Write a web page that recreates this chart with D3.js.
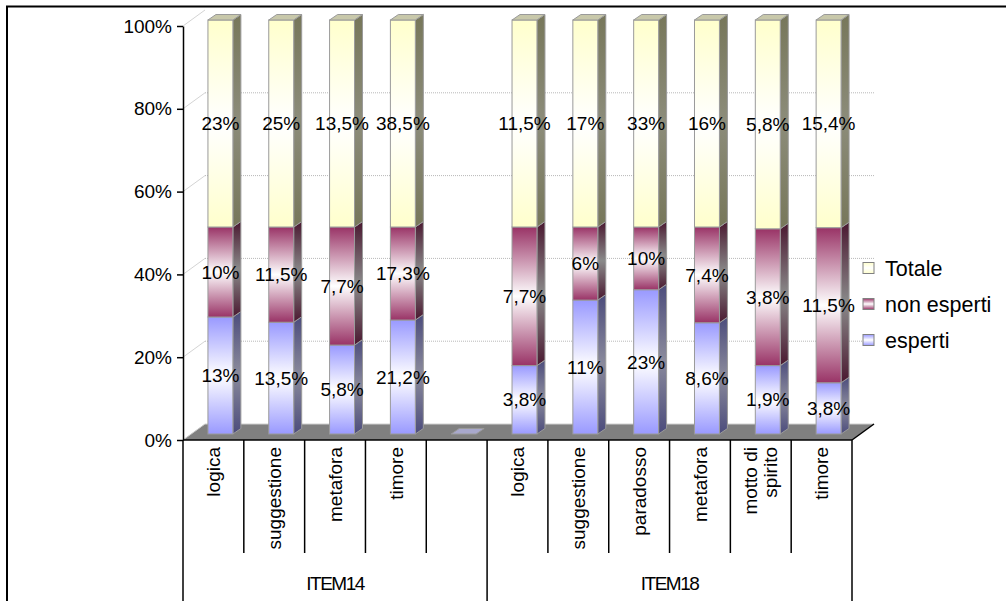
<!DOCTYPE html>
<html>
<head>
<meta charset="utf-8">
<script src="https://cdn.jsdelivr.net/npm/d3@7"></script>
<style>
  body { margin: 0; background: #fff; }
  svg { font-family: "Liberation Sans", Arial, Helvetica, sans-serif; }
</style>
</head>
<body>
<svg id="chart" width="1006" height="601"></svg>
<script>
//Data
var categories = [["logica"], ["suggestione"], ["metafora"], ["timore"], [""],
  ["logica"], ["suggestione"], ["paradosso"], ["metafora"], ["motto di", "spirito"], ["timore"]];
var groups = [{name: "ITEM14", from: 0, to: 5}, {name: "ITEM18", from: 5, to: 11}];
var esperti    = [13, 13.5, 5.8, 21.2, 0, 3.8, 11, 23, 8.6, 1.9, 3.8];
var nonEsperti = [10, 11.5, 7.7, 17.3, 0, 7.7, 6, 10, 7.4, 3.8, 11.5];
var totale     = [23, 25, 13.5, 38.5, 0, 11.5, 17, 33, 16, 5.8, 15.4];
var yTicks = [0, 0.2, 0.4, 0.6, 0.8, 1];
var seriesNames = ["esperti", "non esperti", "Totale"];

//Colors per series: face, side edge, side middle, top
var colors = {
  "esperti":     {face: "#9999ff", side: "#4c4c7c", mid: "#8a8a9c", top: "#b4b4dc"},
  "non esperti": {face: "#993366", side: "#4a1830", mid: "#8a8a8a", top: "#b08098"},
  "Totale":      {face: "#ffffcc", side: "#77775a", mid: "#8c8c7a", top: "#c8c8aa"}
};

var rows = categories.map((c, i) => ({
  "esperti": esperti[i], "non esperti": nonEsperti[i], "Totale": totale[i]
}));

var svg = d3.select("#chart");
var defs = svg.append("defs");

//Gradients
seriesNames.forEach(function(s, k) {
  var g = defs.append("linearGradient").attr("id", "face" + k)
    .attr("x1", 0).attr("y1", 0).attr("x2", 0).attr("y2", 1);
  g.append("stop").attr("offset", "0%").attr("stop-color", colors[s].face);
  g.append("stop").attr("offset", "50%").attr("stop-color", "#ffffff");
  g.append("stop").attr("offset", "100%").attr("stop-color", colors[s].face);

  var sg = defs.append("linearGradient").attr("id", "side" + k)
    .attr("x1", 0).attr("y1", 0).attr("x2", 0).attr("y2", 1);
  sg.append("stop").attr("offset", "0%").attr("stop-color", colors[s].side);
  sg.append("stop").attr("offset", "50%").attr("stop-color", colors[s].mid);
  sg.append("stop").attr("offset", "100%").attr("stop-color", colors[s].side);
});

//Scales
var x = d3.scaleBand().domain(d3.range(categories.length)).range([183, 852]);
var y = d3.scaleLinear().domain([0, 1]).range([440, 26]);

var wall = {dx: 22, dy: -16};     //back wall offset
var front = {dx: 7, dy: -6};      //bar front plane
var bd = {dx: 8, dy: -5.5};       //bar depth
var barW = x.bandwidth() * 0.41;

//Chart border (top and left only visible)
svg.append("path")
  .attr("d", "M7,601 L7,6.5 L1006,6.5")
  .attr("fill", "none").attr("stroke", "#000").attr("stroke-width", 2);

//Back wall gridlines
svg.append("g").selectAll("line")
  .data(yTicks.filter(t => t > 0 && t < 1))
  .enter().append("line")
  .attr("x1", 183 + wall.dx).attr("x2", 852 + wall.dx)
  .attr("y1", d => y(d) + wall.dy).attr("y2", d => y(d) + wall.dy)
  .attr("stroke", "#b8b8b8").attr("stroke-dasharray", "1,1");

//Side wall diagonals
svg.append("g").selectAll("line")
  .data(yTicks.filter(t => t > 0))
  .enter().append("line")
  .attr("x1", 183).attr("x2", 183 + wall.dx)
  .attr("y1", d => y(d)).attr("y2", d => y(d) + wall.dy)
  .attr("stroke", "#d4d4d4");

//Floor
var fl = [[183, y(0)], [852, y(0)], [852 + wall.dx, y(0) + wall.dy], [183 + wall.dx, y(0) + wall.dy]];
svg.append("polygon")
  .attr("points", fl.map(p => p.join(",")).join(" "))
  .attr("fill", "#808080");
svg.append("line")
  .attr("x1", fl[3][0]).attr("y1", fl[3][1]).attr("x2", fl[2][0]).attr("y2", fl[2][1])
  .attr("stroke", "#d0d0d0");
svg.append("line")
  .attr("x1", fl[0][0]).attr("y1", fl[0][1]).attr("x2", fl[3][0]).attr("y2", fl[3][1])
  .attr("stroke", "#c8c8c8");
svg.append("line")
  .attr("x1", fl[1][0]).attr("y1", fl[1][1]).attr("x2", fl[2][0]).attr("y2", fl[2][1])
  .attr("stroke", "#000").attr("stroke-width", 1.5);
svg.append("line")
  .attr("x1", 183).attr("y1", y(0)).attr("x2", 852).attr("y2", y(0))
  .attr("stroke", "#000").attr("stroke-width", 1.5);

//Stack
var stacked = d3.stack().keys(seriesNames).offset(d3.stackOffsetExpand)(rows);

var bars = svg.append("g");
var labels = svg.append("g")
  .attr("font-size", 19).attr("text-anchor", "middle").attr("fill", "#000");

function fmt(v) { return String(v).replace(".", ",") + "%"; }

categories.forEach(function(c, i) {
  var x0 = x(i) + (x.bandwidth() - barW) / 2 + front.dx;
  var topY = null, topK = -1;
  stacked.forEach(function(layer, k) {
    var d = layer[i];
    var yb = y(d[0]) + front.dy, yt = y(d[1]) + front.dy;
    if (yb - yt <= 0.01) return;
    //side
    bars.append("polygon")
      .attr("points", [[x0 + barW, yt], [x0 + barW + bd.dx, yt + bd.dy],
        [x0 + barW + bd.dx, yb + bd.dy], [x0 + barW, yb]].map(p => p.join(",")).join(" "))
      .attr("fill", "url(#side" + k + ")")
      .attr("stroke", "#9a9a9a").attr("stroke-width", 1);
    //front
    bars.append("rect")
      .attr("x", x0).attr("y", yt).attr("width", barW).attr("height", yb - yt)
      .attr("fill", "url(#face" + k + ")")
      .attr("stroke", "#9a9a9a").attr("stroke-width", 1);
    labels.append("text")
      .attr("x", x0 + barW / 2).attr("y", (yt + yb) / 2).attr("dy", "0.35em")
      .text(fmt(rows[i][seriesNames[k]]));
    topY = yt; topK = k;
  });
  //top face
  var yt = topY === null ? y(0) + front.dy : topY;
  bars.append("polygon")
    .attr("points", [[x0, yt], [x0 + barW, yt], [x0 + barW + bd.dx, yt + bd.dy],
      [x0 + bd.dx, yt + bd.dy]].map(p => p.join(",")).join(" "))
    .attr("fill", topK < 0 ? "#a8a8cc" : colors[seriesNames[topK]].top)
    .attr("stroke", "#9a9a9a").attr("stroke-width", 1);
});

//Y axis
var yAxis = svg.append("g")
  .attr("transform", "translate(183,0)")
  .call(d3.axisLeft(y).tickValues(yTicks).tickFormat(d3.format(".0%"))
    .tickSize(6).tickSizeOuter(0).tickPadding(5));
yAxis.selectAll("text").attr("font-size", 19).attr("fill", "#000")
  .attr("font-family", "\"Liberation Sans\", Arial, sans-serif");
yAxis.selectAll("line, path").attr("stroke", "#000").attr("stroke-width", 1.5);

//Category dividers
var bounds = d3.range(categories.length + 1).map(i => i < categories.length ? x(i) : 852);
var groupEdges = [];
groups.forEach(g => { groupEdges.push(g.from); groupEdges.push(g.to); });
svg.append("g").selectAll("line")
  .data(bounds)
  .enter().append("line")
  .attr("x1", d => d).attr("x2", d => d)
  .attr("y1", 440)
  .attr("y2", (d, i) => groupEdges.indexOf(i) >= 0 ? 601 : 553)
  .attr("stroke", "#000").attr("stroke-width", 1.5);

//Category labels
var cat = svg.append("g").attr("font-size", 19).attr("fill", "#000");
categories.forEach(function(lines, i) {
  var t = cat.append("text")
    .attr("transform", "translate(" + (x(i) + x.bandwidth() / 2) + ",447) rotate(-90)")
    .attr("text-anchor", "end");
  lines.forEach(function(l, k) {
    t.append("tspan").attr("x", 0)
      .attr("y", (k - (lines.length - 1) / 2) * 20)
      .attr("dy", "0.35em").text(l);
  });
});

//Group labels
svg.append("g").selectAll("text")
  .data(groups)
  .enter().append("text")
  .attr("x", d => (bounds[d.from] + bounds[d.to]) / 2)
  .attr("y", 590)
  .attr("text-anchor", "middle")
  .attr("font-size", 19)
  .attr("letter-spacing", "-1.5")
  .text(d => d.name);

//Legend
var legend = svg.append("g").attr("font-size", 21.5);
seriesNames.slice().reverse().forEach(function(s, j) {
  var k = seriesNames.indexOf(s);
  var cy = 268 + j * 36;
  legend.append("rect")
    .attr("x", 863).attr("y", cy - 5.5).attr("width", 11).attr("height", 11)
    .attr("fill", "url(#face" + k + ")")
    .attr("stroke", "#808080").attr("stroke-width", 1);
  legend.append("text")
    .attr("x", 885).attr("y", cy).attr("dy", "0.35em")
    .text(s);
});
</script>
</body>
</html>
